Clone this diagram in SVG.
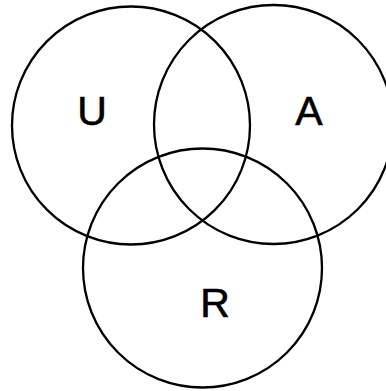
<svg xmlns="http://www.w3.org/2000/svg" width="386" height="391" viewBox="0 0 386 391">
<style>
.c{fill:none;stroke:#000;stroke-width:2.3}
.t{font-family:"Liberation Sans",Arial,sans-serif;font-size:41px;fill:#000;stroke:#000;stroke-width:0.6;text-anchor:middle}
</style>
<rect width="386" height="391" fill="#fff"/>
<g id="U"><circle class="c" cx="131" cy="125.5" r="119"/><text class="t" x="92" y="125">U</text></g>
<g id="A"><circle class="c" cx="273.5" cy="124.5" r="119.5"/><text class="t" x="309" y="125">A</text></g>
<g id="R"><circle class="c" cx="202.5" cy="268" r="119.5"/><text class="t" x="215" y="317">R</text></g>
<g id="connectors"></g>
</svg>
